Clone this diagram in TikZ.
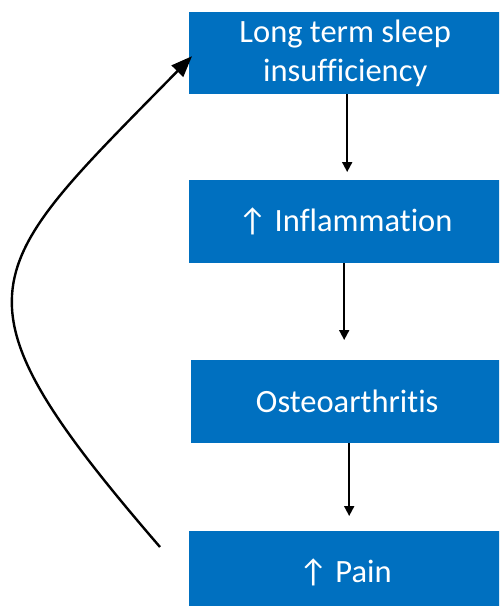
\documentclass[tikz,border=0pt]{standalone}
\usepackage{fontspec}
\setmainfont{Carlito}[RawFeature=-liga]
\usetikzlibrary{arrows.meta}
\definecolor{boxblue}{HTML}{0070C0}
\tikzset{
  stagebox/.style={fill=boxblue, text=white, draw=none, anchor=north west,
    minimum width=312pt, inner sep=0pt, align=center,
    font=\fontsize{32.5}{39}\selectfont},
  flow/.style={draw=black, line width=1.8pt, -{Triangle[length=10pt,width=10pt]}},
  feedback/.style={draw=black, line width=2.4pt, -{Triangle[length=21pt,width=16pt]}}
}
\begin{document}
\begin{tikzpicture}[x=1pt,y=-1pt]
  \useasboundingbox (0,0) rectangle (499,606);
  \clip (0,0) rectangle (499,606);
  \fill[white] (0,0) rectangle (499,606);

  % the four stages of the cycle
  \node[stagebox, minimum height=82pt] (sleep) at (189,12) {Long term sleep\\insufficiency};
  \node[stagebox, minimum height=83pt] (infl)  at (189,180) {↑ Inflammation};
  \node[stagebox, minimum height=83pt] (oa)    at (191,360) {Osteoarthritis};
  \node[stagebox, minimum height=82pt] (pain)  at (189,531) {↑ Pain};

  % downward links between the stages
  \draw[flow, shorten >=8pt]  ([xshift=2pt]sleep.south) -- ([xshift=2pt]sleep.south |- infl.north);
  \draw[flow, shorten >=20pt] ([xshift=-1pt]infl.south) -- ([xshift=-1pt]infl.south |- oa.north);
  \draw[flow, shorten >=15pt] ([xshift=2pt]oa.south) -- ([xshift=2pt]oa.south |- pain.north);

  % feedback curve from pain back to sleep insufficiency
  \coordinate (loopstart) at (160,547);
  \draw[feedback] (loopstart) .. controls (-60,292) and (-19,272) .. ([shift={(3,3)}]sleep.west);
\end{tikzpicture}
\end{document}
